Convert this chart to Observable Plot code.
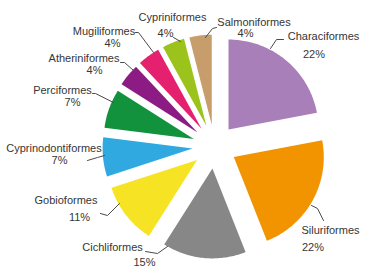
<!DOCTYPE html>
<html>
<head>
<meta charset="utf-8">
<script src="https://cdn.jsdelivr.net/npm/d3@7"></script>
<script src="https://cdn.jsdelivr.net/npm/@observablehq/plot@0.6"></script>
<style>
  html, body { margin: 0; padding: 0; background: #fff; }
  #chart svg { display: block; }
</style>
</head>
<body>
<div id="chart"></div>
<script>
// ---- data ----
const categories = ["Characiformes", "Siluriformes", "Cichliformes", "Gobioformes", "Cyprinodontiformes",
                    "Perciformes", "Atheriniformes", "Mugiliformes", "Cypriniformes", "Salmoniformes"];
const values = [22, 22, 15, 11, 7, 7, 4, 4, 4, 4];
const colors = ["#A87FB8", "#F29300", "#878787", "#F6E424", "#2FA9DF",
                "#13923E", "#8C1C84", "#E5216F", "#9CC31C", "#C79D6B"];

// ---- layout (pixels) ----
const W = 370, H = 273;
const cx = 214, cy = 146, R = 90, explode = 22;
const nameXY = [[323,36],[330,230],[112,247],[65.5,200],[53.5,148],[62,90],[83.5,58],[103.5,31],[172,17],[253.5,22]];
const pctXY  = [[313.5,54],[312.5,247],[144,262],[79,217],[59,159.5],[72,101.5],[94,70],[112,42.5],[165,33],[245,33]];
const leaders = [
  [[270,48],[276,39],[283,39]],
  [[311,205],[317,208],[323,220]],
  [[145,251],[157,253],[167,246]],
  [[100,213],[107,215],[119,203]],
  [[87,160],[97,157],[104,155]],
  [[92,93],[95,93],[113,102]],
  [[120,62],[124,62],[133,70]],
  [[135,32],[138,32],[153,52]],
  [[173,37],[180,41]],
  [[205,37],[212,28],[216,27]]
];

// ---- slice geometry from data ----
const arcs = d3.pie().sort(null).value(d => d)(values);
const slicePts = [];
arcs.forEach((a, i) => {
  const mid = (a.startAngle + a.endAngle) / 2;
  const ox = cx + explode * Math.sin(mid), oy = cy - explode * Math.cos(mid);
  slicePts.push({s: categories[i], c: colors[i], x: ox, y: oy});
  const n = Math.max(4, Math.ceil((a.endAngle - a.startAngle) / (Math.PI / 180)));
  for (let k = 0; k <= n; k++) {
    const t = a.startAngle + (a.endAngle - a.startAngle) * k / n;
    slicePts.push({s: categories[i], c: colors[i], x: ox + R * Math.sin(t), y: oy - R * Math.cos(t)});
  }
});

const labelRows = categories.map((c, i) => ({name: c, pct: values[i] + "%",
  nx: nameXY[i][0], ny: nameXY[i][1], px: pctXY[i][0], py: pctXY[i][1]}));
const leaderPts = leaders.flatMap((pts, i) => pts.map(p => ({s: categories[i], x: p[0], y: p[1]})));

const font = "Liberation Sans, Arial, sans-serif";
const chart = Plot.plot({
  width: W, height: H,
  margin: 0,
  style: {background: "#fff", fontFamily: font},
  x: {domain: [0, W], range: [0, W], axis: null},
  y: {domain: [0, H], range: [0, H], axis: null},
  color: {type: "identity"},
  marks: [
    Plot.line(slicePts, {x: "x", y: "y", z: "s", fill: "c", stroke: "none", curve: "linear-closed"}),
    Plot.line(leaderPts, {x: "x", y: "y", z: "s", stroke: "#4a4a4a", strokeWidth: 1}),
    Plot.text(labelRows, {x: "nx", y: "ny", text: "name", fontSize: 11, fill: "#363636", fontFamily: font}),
    Plot.text(labelRows, {x: "px", y: "py", text: "pct", fontSize: 11, fill: "#363636", fontFamily: font})
  ]
});
document.getElementById("chart").appendChild(chart);
</script>
</body>
</html>
